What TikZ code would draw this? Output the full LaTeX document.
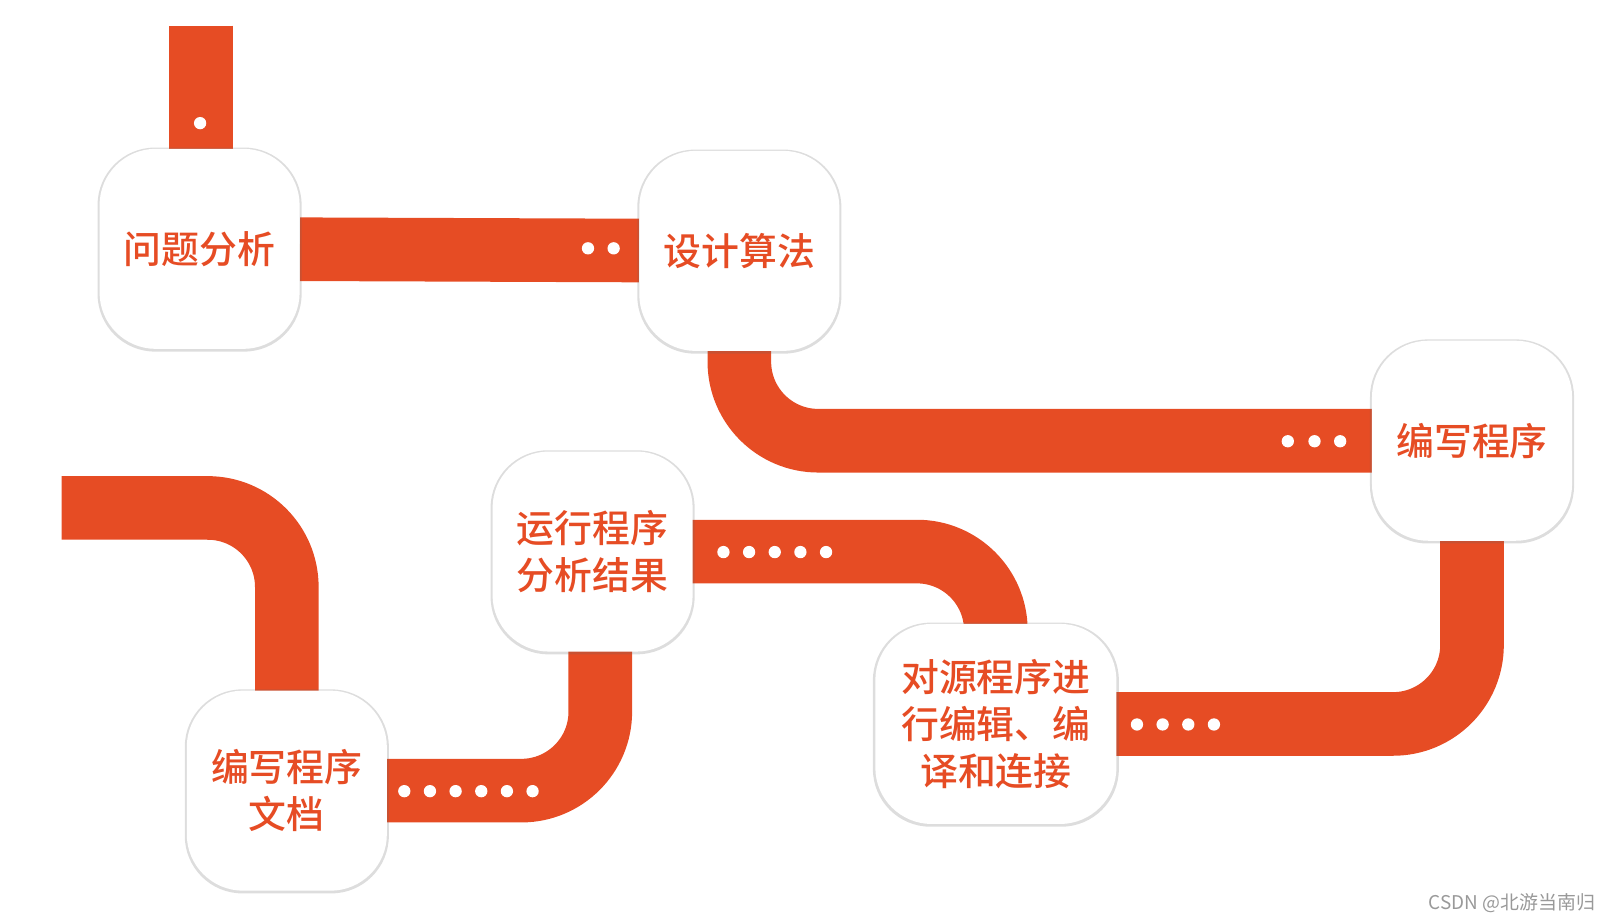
\documentclass[tikz,border=0pt]{standalone}
\usepackage{fontspec}
\newfontfamily\cjk{Noto Sans CJK SC}
\newfontfamily\cjkmid{Noto Sans CJK SC Medium}
\usetikzlibrary{shadows,backgrounds}
\definecolor{roadred}{HTML}{E64C24}

\begin{document}
\begin{tikzpicture}
    [x=0.02cm, y=-0.02cm,
    road/.style={draw=roadred, line width=1.24cm, rounded corners=1.54cm},
    stage/.style={fill=white, rounded corners=1.1cm, minimum width=3.9cm, minimum height=3.9cm,
        align=center, text=roadred, font=\cjkmid\fontsize{21}{26}\selectfont,
        drop shadow={shadow xshift=0pt, shadow yshift=-0.4pt, shadow scale=1.02, opacity=.22, fill=black!60}}]
        \useasboundingbox (0,0) rectangle (1568,898);

        \node[stage] (p1) at (194.5,242.5) {问题分析};
        \node[stage] (p2) at (720.5,244.5) {设计算法};
        \node[stage] (p3) at (1434.5,429.5) {编写程序};
        \node[stage, minimum width=4.7cm] (p4) at (970.5,705.5) {对源程序进\\行编辑、编\\译和连接};
        \node[stage] (p5) at (577.5,537.5) {运行程序\\分析结果};
        \node[stage] (p6) at (279.5,770.5) {编写程序\\文档};
        \coordinate (start) at (196,25);
        \coordinate (tail) at (60,495);

        \begin{scope}[on background layer]
        \draw[road] (start) -- (start |- p1.center);
        \draw[road] (p1) -- (p2);
        \draw[road] (p2.center) |- (p3.center);
        \draw[road] (p3.center) |- (p4.center);
        \draw[road] (p4.center) |- (p5.center);
        \draw[road] ([xshift=0.15cm]p5.center) |- (p6.center);
        \draw[road] (p6.center) |- (tail);
        \end{scope}

        % dots on the road
        \fill[white] (195,120) circle[radius=0.12cm];
        \foreach \x in {573,598} \fill[white] (\x,242) circle[radius=0.12cm];
        \foreach \x in {1255,1281,1306} \fill[white] (\x,430) circle[radius=0.12cm];
        \foreach \x in {1108,1133,1158,1183} \fill[white] (\x,706) circle[radius=0.12cm];
        \foreach \x in {705,730,755,780,805} \fill[white] (\x,538) circle[radius=0.12cm];
        \foreach \x in {394,419,444,469,494,519} \fill[white] (\x,771) circle[radius=0.12cm];

        \node[anchor=east, inner sep=0pt, text=black!40, font=\cjk\fontsize{10.5}{12}\selectfont] (mark) at (1555,880) {CSDN @北游当南归};
   \end{tikzpicture}
\end{document}
